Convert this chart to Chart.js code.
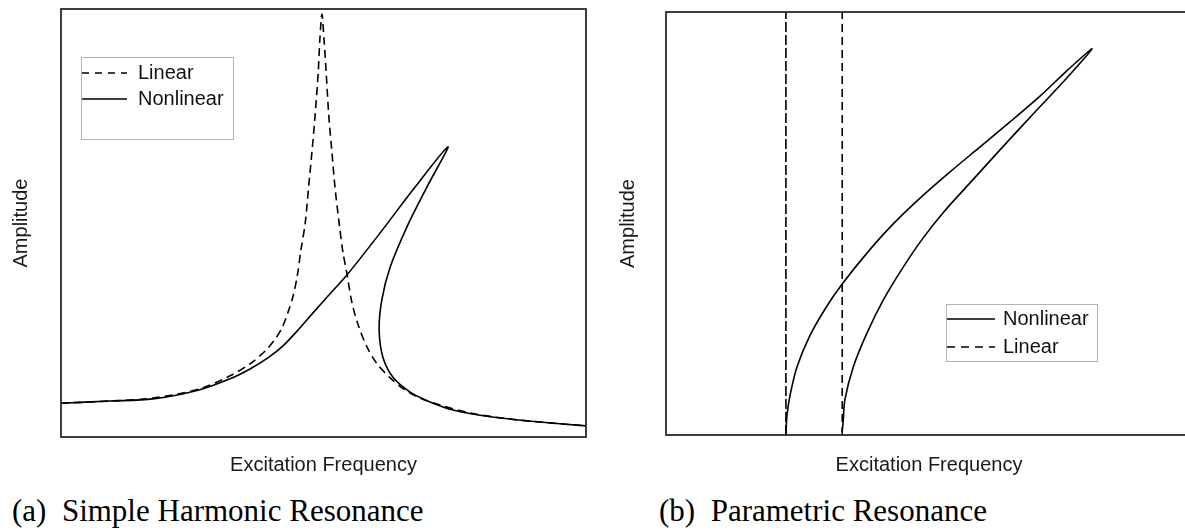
<!DOCTYPE html>
<html>
<head>
<meta charset="utf-8">
<script src="https://cdn.jsdelivr.net/npm/chart.js@4.4.1/dist/chart.umd.min.js"></script>
<style>
  html, body { margin: 0; padding: 0; background: #fff; overflow: hidden; }
  body { width: 1185px; height: 532px; position: relative; }
  canvas { position: absolute; top: 0; }
  #chartA { left: 0; }
  #chartB { left: 600px; }
  .caption { position: absolute; top: 495px; font: 31px 'Liberation Serif', 'Times New Roman', serif; line-height: 31px; white-space: pre; color: #000; }
</style>
</head>
<body>
<canvas id="chartA" width="600" height="480"></canvas>
<canvas id="chartB" width="600" height="480"></canvas>
<div class="caption" style="left:12px">(a)  Simple Harmonic Resonance</div>
<div class="caption" style="left:659px">(b)  Parametric Resonance</div>
<script>
// (a) simple harmonic resonance, arbitrary units
const freqLinearA = [0, 0.93, 1.75, 2.63, 3.22, 3.60, 3.89, 4.08, 4.21, 4.32, 4.42, 4.50, 4.57, 4.65, 4.72, 4.78, 4.84, 4.90, 4.93, 4.97,
  5.01, 5.05, 5.10, 5.16, 5.22, 5.30, 5.37, 5.45, 5.54, 5.66, 5.83, 6.02, 6.27, 6.53, 6.84, 7.22, 7.79, 8.55, 9.12, 10];
const ampLinearA = [0.79, 0.84, 0.91, 1.12, 1.43, 1.71, 2.01, 2.29, 2.55, 2.90, 3.29, 3.76, 4.37, 4.98, 5.89, 6.66, 7.52, 8.53, 9.28, 9.88,
  9.28, 8.53, 7.52, 6.66, 5.82, 4.98, 4.32, 3.79, 3.15, 2.62, 2.10, 1.71, 1.38, 1.12, 0.91, 0.75, 0.56, 0.42, 0.35, 0.26];

// the nonlinear curve bends back on itself, so it is stored as an ordered path
const freqNonlinearA = [0, 0.93, 1.75, 2.63, 3.22, 3.60, 3.94, 4.23, 4.50, 4.80, 5.12, 5.45, 6.08, 6.70, 7.37,
  6.97, 6.59, 6.27, 6.11, 6.06, 6.13, 6.32, 6.65, 7.03, 7.47, 7.98, 8.55, 9.12, 10];
const ampNonlinearA = [0.79, 0.84, 0.89, 1.10, 1.36, 1.59, 1.85, 2.13, 2.48, 2.90, 3.34, 3.79, 4.77, 5.77, 6.78,
  5.84, 4.91, 3.97, 3.20, 2.50, 1.87, 1.40, 1.05, 0.82, 0.63, 0.51, 0.42, 0.35, 0.26];

// (b) parametric resonance
const freqNonlinearB = [2.28, 2.30, 2.36, 2.49, 2.74, 3.06, 3.35, 3.82, 4.32, 4.83, 5.40, 5.97, 6.54, 7.11, 7.62, 8.10,
  7.62, 6.98, 6.35, 5.78, 5.30, 4.89, 4.51, 4.13, 3.82, 3.56, 3.40, 3.37, 3.35];
const ampNonlinearB = [0, 0.47, 0.95, 1.61, 2.36, 3.05, 3.57, 4.30, 4.99, 5.60, 6.22, 6.81, 7.40, 8.01, 8.61, 9.13,
  8.44, 7.59, 6.74, 5.96, 5.30, 4.66, 3.97, 3.19, 2.41, 1.61, 0.83, 0.35, 0.07];
const linearBoundsB = [2.28, 3.35];

const axisMin = 0;
const axisMax = 10;

const toPoints = (xs, ys) => xs.map((x, i) => ({ x, y: ys[i] }));

const sans = "'Liberation Sans', Arial, sans-serif";

// box round the plot area
const framePlugin = {
  id: 'frame',
  afterDraw(chart, args, opts) {
    const { ctx, chartArea: a } = chart;
    ctx.save();
    ctx.strokeStyle = opts.color;
    ctx.lineWidth = opts.width;
    ctx.strokeRect(a.left, a.top, a.right - a.left, a.bottom - a.top);
    ctx.restore();
  }
};

// matlab-style legend box drawn inside the plot
const boxLegendPlugin = {
  id: 'boxLegend',
  afterDraw(chart, args, opts) {
    const { ctx } = chart;
    const { x, y, w, h } = opts;
    ctx.save();
    ctx.fillStyle = '#fff';
    ctx.fillRect(x, y, w, h);
    ctx.strokeStyle = '#b4b4b4';
    ctx.lineWidth = 1;
    ctx.strokeRect(x + 0.5, y + 0.5, w, h);
    ctx.font = '20px ' + sans;
    ctx.textBaseline = 'middle';
    opts.order.forEach((label, i) => {
      const ds = chart.data.datasets.find(d => d.label === label);
      const cy = y + opts.firstRow + i * opts.rowH;
      ctx.strokeStyle = ds.borderColor;
      ctx.lineWidth = ds.borderWidth;
      ctx.setLineDash(ds.legendDash || ds.borderDash || []);
      ctx.beginPath();
      ctx.moveTo(x + 1, cy);
      ctx.lineTo(x + 1 + opts.lineLen, cy);
      ctx.stroke();
      ctx.setLineDash([]);
      ctx.fillStyle = '#111';
      ctx.fillText(label, x + opts.textOffset, cy);
    });
    ctx.restore();
  }
};

function makeOptions(yWidth, xHeight, padding, yTitlePad, legend) {
  return {
    responsive: false,
    animation: false,
    devicePixelRatio: 1,
    layout: { padding },
    plugins: {
      legend: { display: false },
      tooltip: { enabled: false },
      frame: { color: '#2a2a2a', width: 1.8 },
      boxLegend: legend
    },
    scales: {
      x: {
        type: 'linear',
        min: axisMin,
        max: axisMax,
        grid: { display: false },
        border: { display: false },
        ticks: { display: false },
        title: { display: true, text: 'Excitation Frequency', color: '#1a1a1a', font: { family: sans, size: 20 }, padding: { top: 0, bottom: 3 } },
        afterFit: s => { s.height = xHeight; }
      },
      y: {
        type: 'linear',
        min: axisMin,
        max: axisMax,
        grid: { display: false },
        border: { display: false },
        ticks: { display: false },
        title: { display: true, text: 'Amplitude', color: '#1a1a1a', font: { family: sans, size: 20 }, padding: { top: yTitlePad, bottom: 0 } },
        afterFit: s => { s.width = yWidth; }
      }
    }
  };
}

const lineStyle = { showLine: true, pointRadius: 0, borderColor: '#000', borderWidth: 1.6, fill: false };

new Chart(document.getElementById('chartA'), {
  type: 'scatter',
  data: {
    datasets: [
      { ...lineStyle, label: 'Linear', data: toPoints(freqLinearA, ampLinearA), borderDash: [8, 5], tension: 0.3, legendDash: [7, 6] },
      { ...lineStyle, label: 'Nonlinear', data: toPoints(freqNonlinearA, ampNonlinearA), tension: 0.3 }
    ]
  },
  options: makeOptions(61, 43, { top: 9, right: 14, bottom: 0, left: 0 }, 9,
    { x: 81, y: 57, w: 152, h: 82, firstRow: 16, rowH: 26, lineLen: 45, textOffset: 57, order: ['Linear', 'Nonlinear'] }),
  plugins: [framePlugin, boxLegendPlugin]
});

new Chart(document.getElementById('chartB'), {
  type: 'scatter',
  data: {
    datasets: [
      { ...lineStyle, label: 'Nonlinear', data: toPoints(freqNonlinearB, ampNonlinearB), tension: 0.3 },
      { ...lineStyle, label: 'Linear', data: [{ x: linearBoundsB[0], y: axisMin }, { x: linearBoundsB[0], y: axisMax }], borderDash: [10, 3], legendDash: [8, 6] },
      { ...lineStyle, label: 'Linear ', data: [{ x: linearBoundsB[1], y: axisMin }, { x: linearBoundsB[1], y: axisMax }], borderDash: [8, 5] }
    ]
  },
  options: makeOptions(66, 45, { top: 12, right: 8, bottom: 0, left: 0 }, 16,
    { x: 346, y: 304, w: 151, h: 57, firstRow: 15, rowH: 28, lineLen: 48, textOffset: 57, order: ['Nonlinear', 'Linear'] }),
  plugins: [framePlugin, boxLegendPlugin]
});
</script>
</body>
</html>
